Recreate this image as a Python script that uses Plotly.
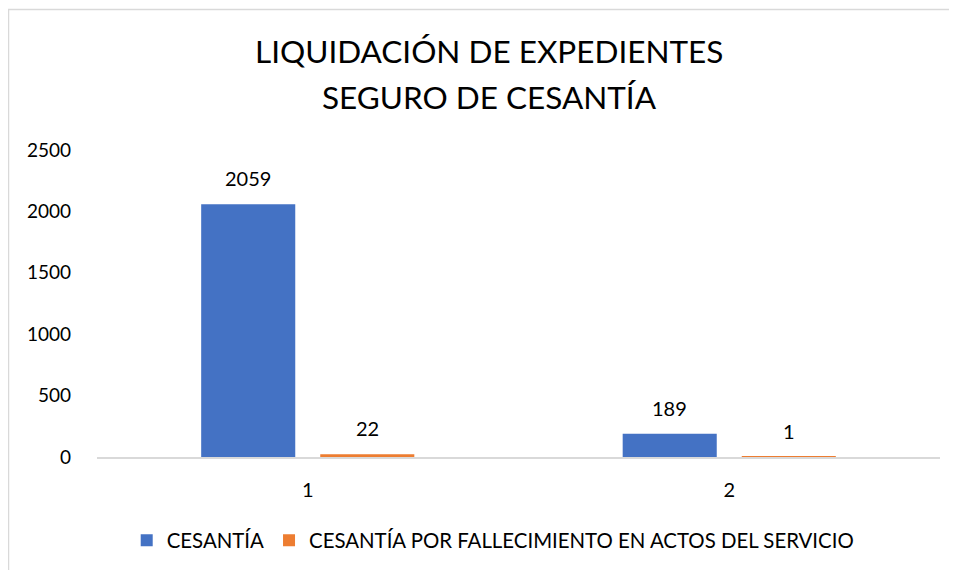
import plotly.graph_objects as go

categories = ["1", "2"]
cesantia = [2059, 189]
fallecimiento = [22, 1]
series_names = ["CESANTÍA", "CESANTÍA POR FALLECIMIENTO EN ACTOS DEL SERVICIO"]
title_lines = ["LIQUIDACIÓN DE EXPEDIENTES", "SEGURO DE CESANTÍA"]
y_ticks = [0, 500, 1000, 1500, 2000, 2500]

FONT = "Lato"
# page body has an 8px margin, so figure pixel = screen pixel - 8
W, H = 941, 562
L, R, T, B = 89, 9, 142, 111
PW, PH = W - L - R, H - T - B


def px_x(fx):
    return (fx - L) / PW


def px_y(fy):
    return (H - B - fy) / PH


fig = go.Figure()
fig.add_trace(go.Bar(x=categories, y=cesantia, name=series_names[0],
                     marker=dict(color="#4472C4", line=dict(width=0))))
fig.add_trace(go.Bar(x=categories, y=fallecimiento, name=series_names[1],
                     marker=dict(color="#ED7D31", line=dict(width=0))))

annotations = []
# data labels, positioned via the axes' own scales (category index on x)
for i, v in enumerate(cesantia):
    annotations.append(dict(x=i, y=v, xref="x", yref="y", text=str(v), showarrow=False,
                            xshift=-59.5, yanchor="bottom", yshift=12,
                            font=dict(size=20, family=FONT, color="#000000")))
for i, v in enumerate(fallecimiento):
    annotations.append(dict(x=i, y=v, xref="x", yref="y", text=str(v), showarrow=False,
                            xshift=59.5, yanchor="bottom", yshift=12,
                            font=dict(size=20, family=FONT, color="#000000")))
# title lines
annotations.append(dict(x=px_x(481), y=px_y(42), xref="paper", yref="paper", text=title_lines[0],
                        showarrow=False, xanchor="center", yanchor="middle",
                        font=dict(size=31.5, family=FONT, color="#000000")))
annotations.append(dict(x=px_x(481), y=px_y(89), xref="paper", yref="paper", text=title_lines[1],
                        showarrow=False, xanchor="center", yanchor="middle",
                        font=dict(size=31.5, family=FONT, color="#000000")))

fig.update_layout(
    width=W, height=H,
    margin=dict(l=L, r=R, t=T, b=B),
    paper_bgcolor="white", plot_bgcolor="white",
    font=dict(family=FONT, size=20, color="#000000"),
    barmode="group", bargap=0.435, bargroupgap=0.21,
    xaxis=dict(type="category", range=[-0.5, len(categories) - 0.5], showline=True,
               linecolor="#D9D9D9", linewidth=2,
               showgrid=False, ticks="", tickfont=dict(size=20), ticklabelstandoff=14),
    yaxis=dict(range=[0, 2500], tickvals=y_ticks, showgrid=False, zeroline=False,
               showline=False, ticks="", tickfont=dict(size=19), ticklabelstandoff=25),
    legend=dict(orientation="h", x=0.47, xanchor="center", y=px_y(535), yanchor="middle",
                font=dict(size=20.4), itemwidth=30, traceorder="normal"),
    annotations=annotations,
    shapes=[dict(type="rect", xref="paper", yref="paper",
                 x0=px_x(0.5), x1=px_x(W + 20), y0=px_y(H + 20), y1=px_y(0.5),
                 line=dict(color="#D9D9D9", width=1.5), fillcolor="rgba(0,0,0,0)", layer="below")],
)

fig.write_html("out.html")
